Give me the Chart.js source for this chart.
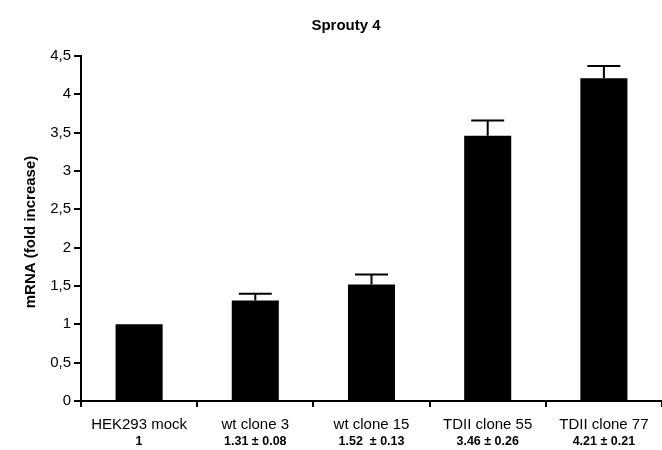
<!DOCTYPE html>
<html>
<head>
<meta charset="utf-8">
<script src="https://cdn.jsdelivr.net/npm/chart.js@4.4.1/dist/chart.umd.min.js"></script>
<style>
html,body{margin:0;padding:0;background:#fff;}
#wrap{width:662px;height:450px;position:relative;}
</style>
</head>
<body>
<div id="wrap"><canvas id="c" width="662" height="450"></canvas></div>
<script>
const categories = ["HEK293 mock", "wt clone 3", "wt clone 15", "TDII clone 55", "TDII clone 77"];
const valueLabels = ["1", "1.31 \u00b1 0.08", "1.52  \u00b1 0.13", "3.46 \u00b1 0.26", "4.21 \u00b1 0.21"];
const means = [1, 1.31, 1.52, 3.46, 4.21];
const errors = [0, 0.09, 0.13, 0.2, 0.16];
const yTickLabels = ["0", "0,5", "1", "1,5", "2", "2,5", "3", "3,5", "4", "4,5"];
const titleText = "Sprouty 4";
const yTitle = "mRNA (fold increase)";

const FONT = "'Liberation Sans', Arial, Helvetica, sans-serif";

const errorBars = {
  id: 'errorBars',
  afterDatasetsDraw(chart) {
    const ctx = chart.ctx;
    const meta = chart.getDatasetMeta(0);
    const y = chart.scales.y;
    ctx.save();
    ctx.strokeStyle = '#000';
    ctx.lineWidth = 2;
    meta.data.forEach((bar, i) => {
      if (!errors[i]) return;
      const top = y.getPixelForValue(means[i] + errors[i]);
      const base = y.getPixelForValue(means[i]);
      const half = bar.width * 0.35;
      ctx.beginPath();
      ctx.moveTo(bar.x, base);
      ctx.lineTo(bar.x, top);
      ctx.moveTo(bar.x - half, top);
      ctx.lineTo(bar.x + half, top);
      ctx.stroke();
    });
    ctx.restore();
  }
};

const extraText = {
  id: 'extraText',
  afterDraw(chart) {
    const ctx = chart.ctx;
    const x = chart.scales.x;
    ctx.save();
    ctx.fillStyle = '#000';
    ctx.textAlign = 'center';
    ctx.textBaseline = 'middle';
    ctx.font = "bold 12.5px " + FONT;
    valueLabels.forEach((t, i) => {
      ctx.fillText(t, x.getPixelForValue(i), 442);
    });
    ctx.font = "bold 15px " + FONT;
    ctx.fillText(titleText, 346, 26);
    ctx.translate(31, 232);
    ctx.rotate(-Math.PI / 2);
    ctx.font = "bold 15px " + FONT;
    ctx.fillText(yTitle, 0, 0);
    ctx.restore();
  }
};

new Chart(document.getElementById('c'), {
  type: 'bar',
  data: {
    labels: categories,
    datasets: [{
      data: means,
      backgroundColor: '#000',
      borderWidth: 0,
      barPercentage: 0.405,
      categoryPercentage: 1.0
    }]
  },
  options: {
    responsive: false,
    animation: false,
    devicePixelRatio: 1,
    layout: { padding: { top: 56, right: 0, left: 0, bottom: 0 } },
    plugins: { legend: { display: false }, title: { display: false }, tooltip: { enabled: false } },
    scales: {
      x: {
        grid: { display: true, drawOnChartArea: false, drawTicks: true, tickLength: 6, color: '#000', lineWidth: 2, offset: true },
        border: { display: true, color: '#000', width: 2 },
        ticks: { color: '#000', font: { family: FONT, size: 15 }, padding: 9, maxRotation: 0, autoSkip: false },
        afterFit(s) { s.height = 49; }
      },
      y: {
        min: 0, max: 4.5,
        grid: { display: true, drawOnChartArea: false, drawTicks: true, tickLength: 7, color: '#000', lineWidth: 2 },
        border: { display: true, color: '#000', width: 2 },
        ticks: {
          stepSize: 0.5, color: '#000', font: { family: FONT, size: 15 }, padding: 3,
          callback: (v) => yTickLabels[Math.round(v * 2)]
        },
        afterFit(s) { s.width = 81; }
      }
    }
  },
  plugins: [errorBars, extraText]
});
</script>
</body>
</html>
